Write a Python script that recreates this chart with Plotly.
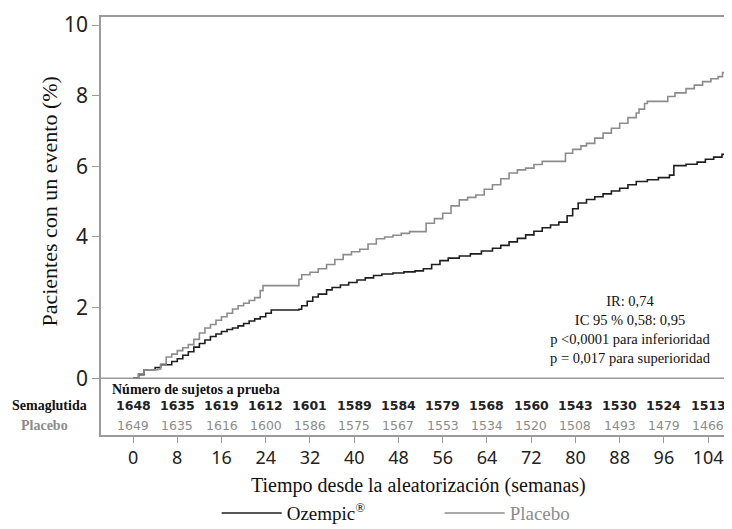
import plotly.graph_objects as go

# ---- data ----
oze_weeks = [0, 1, 2, 4, 5, 7, 8, 9, 10, 11, 12, 13, 14, 15, 16, 17, 18, 19, 20, 21, 22, 23, 24, 25,
             30, 30.5, 31.5, 32.5, 33.5, 35, 36, 37.5, 39, 40.5, 42, 43.5, 45, 47, 49, 51, 52.5, 54,
             55.5, 57, 59, 61, 63, 65, 66.5, 68, 69.5, 71, 72.5, 74, 75.5, 77, 78.5, 79.5, 80.5, 82,
             83.5, 85, 86.5, 88, 89.5, 91, 93, 95, 97, 97.8, 100, 102, 103.5, 105, 106.5, 107.8, 108.9]
oze_pct = [0, 0.10, 0.24, 0.30, 0.38, 0.47, 0.55, 0.65, 0.75, 0.88, 0.98, 1.08, 1.18, 1.25, 1.32, 1.38,
           1.42, 1.48, 1.55, 1.62, 1.68, 1.74, 1.84, 1.93, 1.95, 2.05, 2.18, 2.30, 2.38, 2.50, 2.57,
           2.64, 2.71, 2.78, 2.84, 2.91, 2.95, 2.98, 3.01, 3.04, 3.10, 3.22, 3.33, 3.40, 3.46, 3.52,
           3.60, 3.68, 3.76, 3.86, 3.96, 4.06, 4.16, 4.26, 4.34, 4.42, 4.60, 4.80, 4.96, 5.06, 5.14,
           5.22, 5.30, 5.38, 5.48, 5.57, 5.62, 5.68, 5.75, 6.02, 6.06, 6.12, 6.20, 6.26, 6.34, 6.50, 6.50]

pla_weeks = [0, 1, 2, 4.5, 5, 6, 7, 8, 9, 10, 11, 12, 13, 14, 15, 16, 17, 18, 19, 20, 21, 22, 23, 23.5,
             30, 30.5, 32, 33.5, 35, 36.5, 38, 39.5, 41, 42.5, 44, 45.5, 47, 48.5, 50, 53, 54.5, 56,
             57.5, 59, 60.5, 62, 63.5, 65, 66.5, 68, 69.5, 71, 72.5, 74, 78.2, 79.5, 81, 82, 83.5, 85,
             86.5, 88, 89.5, 91, 91.5, 92.5, 93, 96.7, 98, 100, 101.5, 103, 104.5, 105.8, 106.6, 107.4]
pla_pct = [0, 0.12, 0.24, 0.26, 0.40, 0.60, 0.68, 0.78, 0.86, 0.95, 1.10, 1.28, 1.42, 1.52, 1.64, 1.74,
           1.84, 1.96, 2.05, 2.12, 2.20, 2.28, 2.48, 2.62, 2.80, 2.93, 3.00, 3.10, 3.22, 3.36, 3.50,
           3.58, 3.65, 3.80, 3.95, 4.00, 4.05, 4.10, 4.15, 4.39, 4.52, 4.67, 4.88, 5.05, 5.12, 5.19,
           5.35, 5.48, 5.65, 5.81, 5.90, 5.95, 6.05, 6.14, 6.37, 6.48, 6.58, 6.65, 6.80, 6.94, 7.08,
           7.22, 7.38, 7.51, 7.62, 7.78, 7.84, 7.98, 8.08, 8.20, 8.30, 8.40, 8.48, 8.54, 8.66, 8.66]

risk_weeks = [0, 8, 16, 24, 32, 40, 48, 56, 64, 72, 80, 88, 96, 104]
risk_sema = [1648, 1635, 1619, 1612, 1601, 1589, 1584, 1579, 1568, 1560, 1543, 1530, 1524, 1513]
risk_placebo = [1649, 1635, 1616, 1600, 1586, 1575, 1567, 1553, 1534, 1520, 1508, 1493, 1479, 1466]

y_ticks = [0, 2, 4, 6, 8, 10]
stats_lines = ["IR: 0,74", "IC 95 % 0,58: 0,95", "p &lt;0,0001 para inferioridad",
               "p = 0,017 para superioridad"]

BLACK = "#1e1e1e"
GRAY = "#8c8c8c"
AXIS = "#9a9a9a"
SERIF = "Liberation Serif, Times New Roman, serif"
SANS = "Noto Sans, Open Sans, sans-serif"
TABLE = "DejaVu Sans, sans-serif"

fig = go.Figure()
fig.add_trace(go.Scatter(x=oze_weeks, y=oze_pct, mode="lines", line_shape="hv",
                         line=dict(color=BLACK, width=1.6), name="Ozempic<sup>®</sup>"))
fig.add_trace(go.Scatter(x=pla_weeks, y=pla_pct, mode="lines", line_shape="hv",
                         line=dict(color=GRAY, width=1.6),
                         name='<span style="color:#8c8c8c">Placebo</span>'))

# zero line separating the curves from the risk table
fig.add_shape(type="line", xref="paper", yref="y", x0=0, x1=1, y0=0, y1=0,
              line=dict(color=AXIS, width=1.5), layer="below")

# risk table
fig.add_annotation(x=-4.2, y=-0.33, xref="x", yref="y", xanchor="left", showarrow=False,
                   text="<b>Número de sujetos a prueba</b>", font=dict(family=SERIF, size=14, color="#111"))
fig.add_annotation(x=-0.143, y=-0.77, xref="paper", yref="y", xanchor="left", showarrow=False,
                   text="<b>Semaglutida</b>", font=dict(family=SERIF, size=14, color="#111"))
fig.add_annotation(x=-0.129, y=-1.33, xref="paper", yref="y", xanchor="left", showarrow=False,
                   text="<b>Placebo</b>", font=dict(family=SERIF, size=14, color=GRAY))
for wk, s, p in zip(risk_weeks, risk_sema, risk_placebo):
    fig.add_annotation(x=wk, y=-0.77, xref="x", yref="y", showarrow=False, text=f"<b>{s}</b>",
                       font=dict(family=TABLE, size=12.5, color="#222"))
    fig.add_annotation(x=wk, y=-1.33, xref="x", yref="y", showarrow=False, text=str(p),
                       font=dict(family=TABLE, size=12.5, color=GRAY))

# statistics text
fig.add_annotation(x=90, y=1.37, xref="x", yref="y", showarrow=False, align="center",
                   xanchor="center", yanchor="middle",
                   text="<br>".join(stats_lines), font=dict(family=SERIF, size=14.5, color="#111"))

# axis titles
fig.add_annotation(x=-0.08, y=5, xref="paper", yref="y", textangle=-90, showarrow=False,
                   xanchor="center", yanchor="middle",
                   text="Pacientes con un evento (%)", font=dict(family=SERIF, size=22, color="#111"))
fig.add_annotation(x=0.497, y=-0.122, xref="paper", yref="paper", showarrow=False,
                   xanchor="center", yanchor="middle",
                   text="Tiempo desde la aleatorización (semanas)",
                   font=dict(family=SERIF, size=20, color="#111"))

fig.update_layout(
    width=732, height=529, autosize=False,
    margin=dict(l=93, r=0, t=9, b=102),
    paper_bgcolor="white", plot_bgcolor="white",
    showlegend=True,
    legend=dict(orientation="h", x=0.181, xanchor="left", y=-0.187, yanchor="middle",
                font=dict(family=SERIF, size=19, color="#111"), entrywidth=148,
                itemwidth=60, bgcolor="rgba(0,0,0,0)"),
    xaxis=dict(range=[-5.79, 109.76], tickvals=risk_weeks, ticks="outside", ticklen=6,
               tickcolor=AXIS, showline=True, linecolor=AXIS, linewidth=1.5, mirror=True,
               showgrid=False, zeroline=False, tickfont=dict(family=SANS, size=18, color="#222")),
    yaxis=dict(range=[-1.61, 10.23], tickvals=y_ticks, ticks="outside", ticklen=7,
               tickcolor=AXIS, showline=True, linecolor=AXIS, linewidth=1.5,
               showgrid=False, zeroline=False, tickfont=dict(family=SANS, size=21, color="#222")),
)

fig.write_html("out.html")
